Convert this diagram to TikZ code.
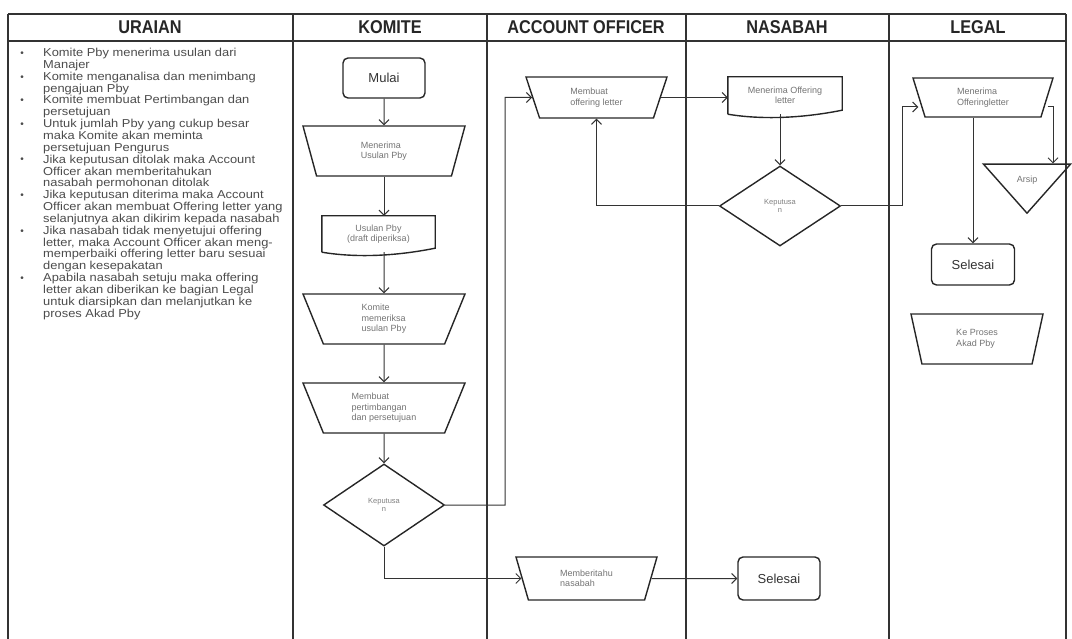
\documentclass[tikz,border=0pt]{standalone}
\usepackage{fontspec}
\setmainfont{Liberation Sans}
\newfontfamily\judulfont[FakeStretch=0.88]{Liberation Sans}
\newfontfamily\uraianfont[FakeStretch=1.12]{Liberation Sans}
\usetikzlibrary{arrows.meta,shapes.geometric}
\tikzset{
    %Define standard arrow tip
    >={Straight Barb[length=5bp,width=10bp]},
    %Define style for boxes
    mulai/.style={
           rectangle,
           rounded corners=5bp,
           draw=black!85, line width=1.4bp,
           minimum width=82bp,
           minimum height=40bp,
           text=black!80,
           font=\fontsize{13bp}{15bp}\selectfont},
    proses/.style={
           trapezium,
           trapezium stretches body,
           shape border rotate=180,
           trapezium left angle=57,
           trapezium right angle=57,
           draw=black!85, line width=1.4bp,
           minimum width=162bp,
           minimum height=50bp,
           inner sep=1bp,
           align=left,
           text=black!55,
           font=\fontsize{9bp}{10.5bp}\selectfont},
    dokumen/.style={
           rectangle,
           inner sep=0pt,
           align=center,
           text=black!55,
           font=\fontsize{9bp}{10.5bp}\selectfont},
    keputusan/.style={
           diamond,
           draw=black!85, line width=1.4bp,
           minimum width=121bp,
           minimum height=82bp,
           inner sep=1bp,
           align=center,
           text=black!50,
           font=\fontsize{7.5bp}{8.5bp}\selectfont},
    arsip/.style={
           isosceles triangle,
           isosceles triangle stretches,
           shape border rotate=270,
           draw=black!85, line width=1.4bp,
           minimum width=87bp,
           minimum height=49bp,
           inner sep=1bp,
           text=black!55,
           font=\fontsize{9bp}{10.5bp}\selectfont},
    bentuk/.style={draw=black!85, line width=1.4bp},
    judul/.style={font=\judulfont\bfseries\fontsize{18.5bp}{20bp}\selectfont, text=black!85},
    uraian/.style={inner sep=0pt, align=left, text=black!70,
           font=\uraianfont\fontsize{11.5bp}{11.85bp}\selectfont},
    butir/.style={inner sep=0pt, text=black!70, font=\fontsize{10bp}{12bp}\selectfont},
    lajur/.style={draw=black!80, line width=1.2bp},
    % Define arrow style
    pil/.style={
           ->,
           draw=black!80,
           line width=1bp}
}
\begin{document}
\begin{tikzpicture}[x=1bp,y=-1bp]
\useasboundingbox (0,0) rectangle (1072,639);
% lajur dan judul
\draw[lajur, line width=2bp] (8,14) -- (1066,14);
\draw[lajur, line width=2bp] (8,41) -- (1066,41);
\foreach \x in {8,293,487,686,889,1066}
  \draw[lajur] (\x,14) -- (\x,639);
\node[judul] (h1) at (150,27.5) {URAIAN};
\node[judul] (h2) at (390,27.5) {KOMITE};
\node[judul] (h3) at (586,27.5) {ACCOUNT OFFICER};
\node[judul] (h4) at (787,27.5) {NASABAH};
\node[judul] (h5) at (978,27.5) {LEGAL};
% uraian
\foreach \k in {0,2,4,6,9,12,15,19}
  \node[butir] (b\k) at (22,54+11.85*\k) {\textbullet};
\node[uraian, anchor=north west] (teks) at (43,48) {Komite Pby menerima usulan dari\\
Manajer\\
Komite menganalisa dan menimbang\\
pengajuan Pby\\
Komite membuat Pertimbangan dan\\
persetujuan\\
Untuk jumlah Pby  yang cukup besar\\
maka Komite akan meminta\\
persetujuan Pengurus\\
Jika keputusan ditolak maka Account\\
Officer akan memberitahukan\\
nasabah permohonan ditolak\\
Jika keputusan diterima maka Account\\
Officer akan membuat Offering letter yang\\
selanjutnya akan dikirim kepada nasabah\\
Jika nasabah tidak menyetujui offering\\
letter, maka Account Officer akan meng-\\
memperbaiki offering letter baru sesuai\\
dengan kesepakatan\\
Apabila nasabah setuju maka offering\\
letter akan diberikan ke bagian Legal\\
untuk diarsipkan dan melanjutkan ke\\
proses Akad Pby};
% komite
\node[mulai] (mulai) at (384,78) {Mulai};
\node[proses] (terima) at (384,151) {Menerima\\Usulan Pby};
\node[dokumen, minimum width=113bp, minimum height=36bp] (usulan) at (378.5,234) {Usulan Pby\\(draft diperiksa)};
\draw[bentuk] (usulan.south west) -- (usulan.north west) -- (usulan.north east)
  -- ([yshift=4bp]usulan.south east) .. controls +(-45bp,-9bp) and +(30bp,-5bp) .. (usulan.south west);
\node[proses] (periksa) at (384,319) {Komite\\memeriksa\\usulan Pby};
\node[proses] (timbang) at (384,408) {Membuat\\pertimbangan\\dan persetujuan};
\node[keputusan] (kep1) at (384,505) {Keputusa\\n};
% account officer
\node[proses, minimum width=141bp, minimum height=41bp] (offering) at (596.5,97.5) {Membuat\\offering letter};
\node[proses, minimum width=141bp, minimum height=43bp] (beritahu) at (586.5,578.5) {Memberitahu\\nasabah};
% nasabah
\node[dokumen, minimum width=114bp, minimum height=37bp] (terimaol) at (785,95.5) {Menerima Offering\\letter};
\draw[bentuk] (terimaol.south west) -- (terimaol.north west) -- (terimaol.north east)
  -- ([yshift=4bp]terimaol.south east) .. controls +(-45bp,-9bp) and +(30bp,-5bp) .. (terimaol.south west);
\node[keputusan, minimum height=80bp] (kep2) at (780,206) {Keputusa\\n};
\node[mulai, minimum height=43bp] (selesai1) at (779,578.5) {Selesai};
% legal
\node[proses, minimum width=140bp, minimum height=39bp, trapezium left angle=60, trapezium right angle=60] (terimalegal) at (983,97.5) {Menerima\\Offeringletter};
\node[arsip, anchor=apex] (arsip) at (1027,215) {Arsip};
\node[mulai, minimum width=83bp, minimum height=41bp] (selesai2) at (973,264.5) {Selesai};
\node[proses, minimum width=132bp, minimum height=50bp, trapezium left angle=62, trapezium right angle=62] (akad) at (977,339) {Ke Proses\\Akad Pby};
% alur
\coordinate (belok1) at (505,97.5);
\coordinate (belok2) at (902,107);
\coordinate (belok3) at (1053,107);
\draw[pil] (mulai) -- (terima);
\draw[pil] (terima.south) -- (terima.south |- usulan.north);
\draw[pil] (terima.south |- usulan.south) -- (periksa);
\draw[pil] (periksa) -- (timbang);
\draw[pil] (timbang) -- (kep1);
\draw[pil] (kep1.east) -| (belok1) -- (offering.west);
\draw[pil] (kep1.south) |- (beritahu.west);
\draw[pil] (beritahu.east) -- (selesai1.west);
\draw[pil] (offering.east) -- (offering.east -| terimaol.west);
\draw[pil] (terimaol.south -| kep2.north) -- (kep2.north);
\draw[pil] (kep2.west) -| (offering.south);
\draw[pil] (kep2.east) -| (belok2) -- (belok2 -| terimalegal.west);
\draw[pil] (terimalegal.south -| selesai2.north) -- (selesai2.north);
\draw[pil] (belok3 -| terimalegal.east) -- (belok3) -- (belok3 |- arsip.north);
\end{tikzpicture}
\end{document}
